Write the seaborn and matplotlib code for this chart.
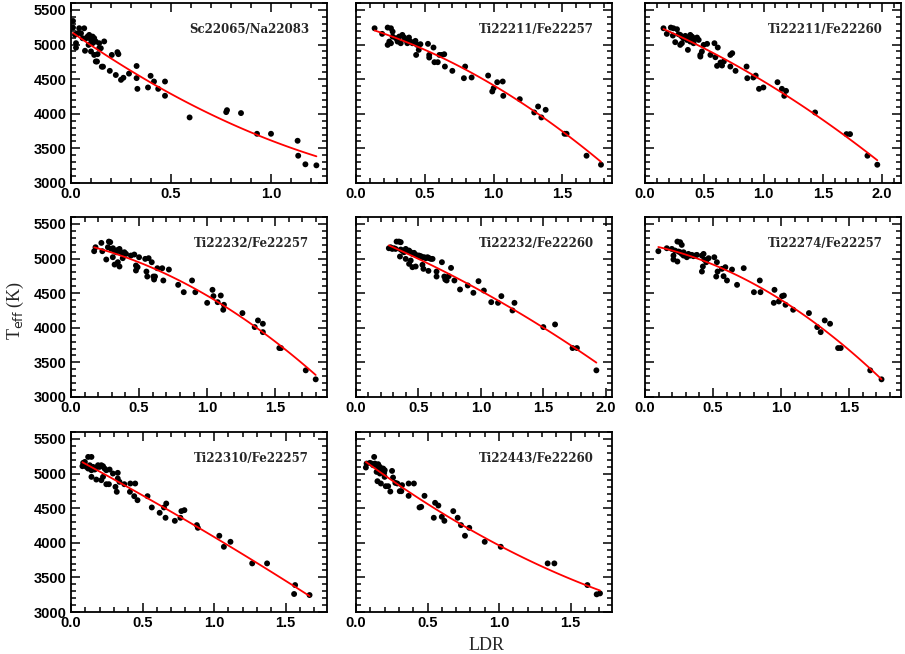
import numpy as np
import pandas as pd
import matplotlib
matplotlib.use("Agg")
import matplotlib.pyplot as plt
from matplotlib.ticker import MultipleLocator
import seaborn as sns

# LDR / Teff values, one pair of lists per line ratio
sc22065_na22083_ldr = [0.01, 0.01, 0.02, 0.025, 0.025, 0.033, 0.041, 0.05, 0.058, 0.066, 0.07, 0.075,
                       0.083, 0.088, 0.091, 0.1, 0.108, 0.116, 0.108, 0.1, 0.116, 0.124, 0.124, 0.13,
                       0.133, 0.141, 0.141, 0.149, 0.166, 0.154, 0.16, 0.204, 0.232, 0.237, 0.194,
                       0.224, 0.25, 0.262, 0.29, 0.328, 0.328, 0.332, 0.385, 0.398, 0.415, 0.436,
                       0.47, 0.47, 0.593, 0.776, 0.78, 0.85, 0.93, 1.0, 1.133, 1.136, 1.172, 1.227]
sc22065_na22083_teff = [5340, 5245, 5140, 5020, 4955, 5163, 5236, 5163, 5091, 5235, 4910, 5090,
                        5115, 4995, 5139, 5067, 5115, 5091, 5019, 4900, 4850, 5043, 4755, 4755,
                        4861, 4947, 5019, 4947, 5045, 4680, 4680, 4850, 4890, 4861, 4620,
                        4560, 4490, 4520, 4580, 4690, 4515, 4360, 4380, 4548, 4466, 4360,
                        4466, 4260, 3947, 4024, 4052, 4010, 3711, 3711, 3610, 3394, 3270, 3255]

ti22211_fe22257_ldr = [0.135, 0.19, 0.23, 0.254, 0.266, 0.23, 0.242, 0.254, 0.266, 0.29, 0.314, 0.337,
                       0.35, 0.36, 0.385, 0.397, 0.41, 0.432, 0.444, 0.468, 0.325, 0.373, 0.302,
                       0.437, 0.456, 0.523, 0.532, 0.532, 0.563, 0.57, 0.594, 0.606, 0.622, 0.641,
                       0.646, 0.7, 0.793, 0.784, 0.84, 0.96, 0.99, 1.0, 1.026, 1.066, 1.07, 1.19,
                       1.295, 1.323, 1.347, 1.378, 1.515, 1.53, 1.675, 1.78]
ti22211_fe22257_teff = [5235, 5154, 5245, 5235, 5187, 4995, 5043, 5019, 5115, 5091, 5115, 5139,
                        5101, 5067, 5101, 5043, 5019, 5053, 4995, 5005, 5019, 5019, 5043,
                        4850, 4923, 5010, 4850, 4812, 4957, 4745, 4745, 4850, 4850, 4860,
                        4682, 4620, 4682, 4514, 4524, 4552, 4322, 4370, 4456, 4466, 4259, 4211,
                        4019, 4105, 3947, 4057, 3711, 3711, 3394, 3264]

ti22211_fe22260_ldr = [0.156, 0.184, 0.218, 0.24, 0.27, 0.235, 0.255, 0.283, 0.297, 0.311, 0.325, 0.34,
                       0.354, 0.368, 0.382, 0.396, 0.41, 0.425, 0.439, 0.453, 0.297, 0.311, 0.362,
                       0.382, 0.41, 0.467, 0.467, 0.48, 0.495, 0.524, 0.552, 0.586, 0.594, 0.614,
                       0.608, 0.637, 0.65, 0.665, 0.72, 0.736, 0.72, 0.764, 0.857, 0.863, 0.914,
                       0.934, 0.962, 0.999, 1.118, 1.155, 1.19, 1.175, 1.435, 1.70, 1.73, 1.877, 1.96]
ti22211_fe22260_teff = [5235, 5154, 5245, 5235, 5221, 5130, 5034, 5149, 5139, 5115, 5091, 5125,
                        5067, 5101, 5139, 5115, 5091, 5082, 5101, 5067, 4995, 5019, 4923,
                        5043, 5019, 4850, 4826, 4899, 4995, 5010, 4850, 5019, 4817, 4957,
                        4692, 4740, 4697, 4755, 4850, 4875, 4682, 4620, 4682, 4514, 4524,
                        4552, 4360, 4380, 4456, 4360, 4331, 4259, 4019, 3706, 3706, 3394, 3264]

ti22232_fe22257_ldr = [0.17, 0.18, 0.223, 0.23, 0.259, 0.278, 0.288, 0.271, 0.295, 0.308, 0.32, 0.332,
                       0.344, 0.356, 0.368, 0.38, 0.392, 0.404, 0.307, 0.32, 0.344, 0.356, 0.38,
                       0.44, 0.465, 0.477, 0.477, 0.489, 0.5, 0.545, 0.554, 0.56, 0.57, 0.593,
                       0.605, 0.617, 0.61, 0.634, 0.67, 0.678, 0.719, 0.787, 0.828, 0.889, 0.913,
                       1.0, 1.039, 1.046, 1.077, 1.1, 1.123, 1.118, 1.259, 1.349, 1.373, 1.409,
                       1.409, 1.53, 1.542, 1.724, 1.797]
ti22232_fe22257_teff = [5106, 5163, 5226, 5106, 4986, 5245, 5236, 5163, 5139, 5149, 5115, 5091,
                        5125, 5139, 5091, 5067, 5091, 5067, 5019, 4913, 4947, 4885, 5005,
                        5043, 5058, 4899, 4827, 4875, 5019, 4995, 4812, 4740, 5005, 4947,
                        4740, 4740, 4697, 4860, 4860, 4683, 4841, 4620, 4514, 4683, 4514,
                        4360, 4548, 4457, 4370, 4466, 4332, 4260, 4212, 4010, 4106, 4058,
                        3937, 3707, 3707, 3385, 3255]

ti22232_fe22260_ldr = [0.263, 0.277, 0.29, 0.304, 0.317, 0.325, 0.344, 0.358, 0.352, 0.358, 0.371, 0.384,
                       0.398, 0.411, 0.425, 0.438, 0.452, 0.465, 0.478, 0.492, 0.505, 0.519, 0.532,
                       0.546, 0.559, 0.573, 0.586, 0.6, 0.613, 0.398, 0.425, 0.438, 0.452, 0.478,
                       0.532, 0.54, 0.58, 0.645, 0.645, 0.688, 0.707, 0.715, 0.726, 0.742, 0.761,
                       0.788, 0.833, 0.895, 0.94, 0.981, 1.024, 1.083, 1.137, 1.164, 1.253, 1.269,
                       1.5, 1.594, 1.734, 1.769, 1.925]
ti22232_fe22260_teff = [5149, 5163, 5139, 5149, 5139, 5245, 5245, 5236, 5029, 5130, 5115, 5091,
                        5139, 5115, 5115, 5091, 5067, 5082, 5053, 5043, 5043, 5034, 5019,
                        5019, 5005, 5019, 5005, 4995, 4995, 4995, 4923, 4971, 4875, 4885,
                        4909, 4851, 4822, 4812, 4740, 4947, 4740, 4697, 4683, 4745, 4865,
                        4683, 4553, 4611, 4505, 4673, 4538, 4370, 4360, 4457, 4250, 4360,
                        4010, 4048, 3707, 3707, 3385]

ti22274_fe22257_ldr = [0.098, 0.16, 0.197, 0.209, 0.209, 0.238, 0.238, 0.258, 0.27, 0.221, 0.246, 0.258,
                       0.27, 0.283, 0.295, 0.307, 0.319, 0.332, 0.344, 0.356, 0.369, 0.381, 0.283,
                       0.307, 0.418, 0.43, 0.435, 0.425, 0.418, 0.45, 0.467, 0.509, 0.528, 0.533,
                       0.523, 0.565, 0.577, 0.59, 0.602, 0.639, 0.676, 0.725, 0.8, 0.843, 0.848,
                       0.946, 0.951, 0.983, 1.007, 1.02, 1.032, 1.088, 1.204, 1.265, 1.29, 1.32,
                       1.359, 1.418, 1.437, 1.654, 1.737]
ti22274_fe22257_teff = [5106, 5149, 5139, 5043, 4986, 4957, 5245, 5236, 5197, 5115, 5101, 5091,
                        5067, 5091, 5053, 5043, 5067, 5043, 5053, 5034, 5043, 5053, 5043,
                        5019, 5043, 5067, 4986, 4885, 4812, 4947, 5005, 5019, 4947, 4812,
                        4740, 4851, 4745, 4875, 4683, 4841, 4620, 4861, 4514, 4683, 4514,
                        4360, 4548, 4380, 4457, 4466, 4332, 4260, 4212, 4010, 3937, 4106,
                        4058, 3707, 3707, 3385, 3255]

ti22310_fe22257_ldr = [0.08, 0.085, 0.097, 0.12, 0.143, 0.108, 0.12, 0.131, 0.143, 0.154, 0.166, 0.177,
                       0.189, 0.2, 0.212, 0.224, 0.235, 0.247, 0.27, 0.143, 0.177, 0.212, 0.224,
                       0.247, 0.265, 0.293, 0.311, 0.32, 0.327, 0.327, 0.339, 0.373, 0.412, 0.415,
                       0.442, 0.449, 0.465, 0.535, 0.565, 0.62, 0.65, 0.661, 0.666, 0.726, 0.765,
                       0.772, 0.793, 0.88, 0.887, 1.037, 1.069, 1.115, 1.267, 1.371, 1.56, 1.567,
                       1.668]
ti22310_fe22257_teff = [5106, 5154, 5168, 5240, 5240, 5096, 5072, 5120, 5048, 5096, 5058, 5087,
                        5120, 5096, 5120, 5106, 5072, 5048, 5058, 4952, 4913, 4904, 4952,
                        4846, 4846, 5000, 4808, 4736, 5010, 4928, 4880, 4846, 4736, 4856,
                        4673, 4856, 4615, 4673, 4510, 4433, 4510, 4361, 4567, 4317, 4361,
                        4457, 4471, 4255, 4216, 4101, 3942, 4014, 3702, 3702, 3260, 3389,
                        3245]

ti22443_fe22260_ldr = [0.069, 0.074, 0.097, 0.127, 0.109, 0.12, 0.132, 0.144, 0.155, 0.167, 0.178, 0.19,
                       0.201, 0.197, 0.155, 0.144, 0.167, 0.15, 0.174, 0.2, 0.208, 0.225, 0.24,
                       0.252, 0.259, 0.275, 0.289, 0.306, 0.317, 0.322, 0.368, 0.368, 0.405, 0.444,
                       0.456, 0.479, 0.544, 0.553, 0.576, 0.6, 0.618, 0.68, 0.711, 0.734, 0.762,
                       0.792, 0.9, 1.012, 1.34, 1.387, 1.618, 1.683, 1.706]
ti22443_fe22260_teff = [5087, 5144, 5154, 5240, 5144, 5120, 5144, 5120, 5135, 5096, 5058, 5072,
                        5048, 5010, 5048, 5024, 5000, 4889, 4856, 4952, 4817, 4817, 4740,
                        5038, 4942, 4865, 4856, 4745, 4745, 4832, 4678, 4856, 4856, 4510,
                        4519, 4678, 4361, 4577, 4538, 4375, 4317, 4457, 4361, 4255, 4101,
                        4216, 4014, 3942, 3702, 3702, 3389, 3255, 3269]

panel_labels = ["Sc22065/Na22083", "Ti22211/Fe22257", "Ti22211/Fe22260",
                "Ti22232/Fe22257", "Ti22232/Fe22260", "Ti22274/Fe22257",
                "Ti22310/Fe22257", "Ti22443/Fe22260"]
panel_ldr = [sc22065_na22083_ldr, ti22211_fe22257_ldr, ti22211_fe22260_ldr,
             ti22232_fe22257_ldr, ti22232_fe22260_ldr, ti22274_fe22257_ldr,
             ti22310_fe22257_ldr, ti22443_fe22260_ldr]
panel_teff = [sc22065_na22083_teff, ti22211_fe22257_teff, ti22211_fe22260_teff,
              ti22232_fe22257_teff, ti22232_fe22260_teff, ti22274_fe22257_teff,
              ti22310_fe22257_teff, ti22443_fe22260_teff]
panel_xmax = [1.28, 1.86, 2.16, 1.88, 2.05, 1.88, 1.79, 1.79]

sns.set_theme(style="ticks")
plt.rcParams['font.family'] = ['Liberation Sans', 'DejaVu Sans']
plt.rcParams['axes.linewidth'] = 1.3
plt.rcParams['axes.edgecolor'] = 'black'
plt.rcParams['xtick.color'] = 'black'
plt.rcParams['ytick.color'] = 'black'
plt.rcParams['xtick.direction'] = 'in'
plt.rcParams['ytick.direction'] = 'in'

W, H = 905, 654
fig = plt.figure(figsize=(W / 100, H / 100), dpi=100)

col_left = [71, 356, 645]
row_top = [3, 217, 432]
ax_w, ax_h = 256, 180

for i, label in enumerate(panel_labels):
    r, c = divmod(i, 3)
    ax = fig.add_axes([col_left[c] / W, 1 - (row_top[r] + ax_h) / H, ax_w / W, ax_h / H])
    df = pd.DataFrame({"ldr": panel_ldr[i], "teff": panel_teff[i]})
    sns.regplot(data=df, x="ldr", y="teff", order=2, ci=None, ax=ax,
                scatter_kws=dict(color="black", s=18, alpha=1, edgecolor="none", zorder=3),
                line_kws=dict(color="#ff0000", lw=1.3, zorder=4))
    ax.set_xlim(0, panel_xmax[i])
    ax.set_ylim(3000, 5600)
    ax.xaxis.set_major_locator(MultipleLocator(0.5))
    ax.xaxis.set_minor_locator(MultipleLocator(0.1))
    ax.yaxis.set_major_locator(MultipleLocator(500))
    ax.yaxis.set_minor_locator(MultipleLocator(100))
    ax.xaxis.set_major_formatter(plt.FormatStrFormatter('%.1f'))
    ax.tick_params(which='both', top=True, right=True, direction='in', width=1.1,
                   labelsize=10.5, pad=3, colors='black')
    ax.tick_params(which='major', length=6.5)
    ax.tick_params(which='minor', length=3.5)
    for lab in ax.get_xticklabels() + ax.get_yticklabels():
        lab.set_fontweight('bold')
    if c != 0:
        ax.set_yticklabels([])
    ax.set_xlabel("")
    ax.set_ylabel("")
    ax.text(0.93, 0.855, label, transform=ax.transAxes, ha='right', va='center',
            fontsize=8.5, fontweight='bold', family='DejaVu Serif')

fig.text(15 / W, 1 - 310 / H, r"T$_{\rm eff}$ (K)", rotation=90, ha='center', va='center',
         fontsize=13, family='Liberation Serif')
fig.text(487 / W, 1 - 645 / H, "LDR", ha='center', va='center',
         fontsize=13, family='Liberation Serif')

fig.savefig("out.png", dpi=100)
